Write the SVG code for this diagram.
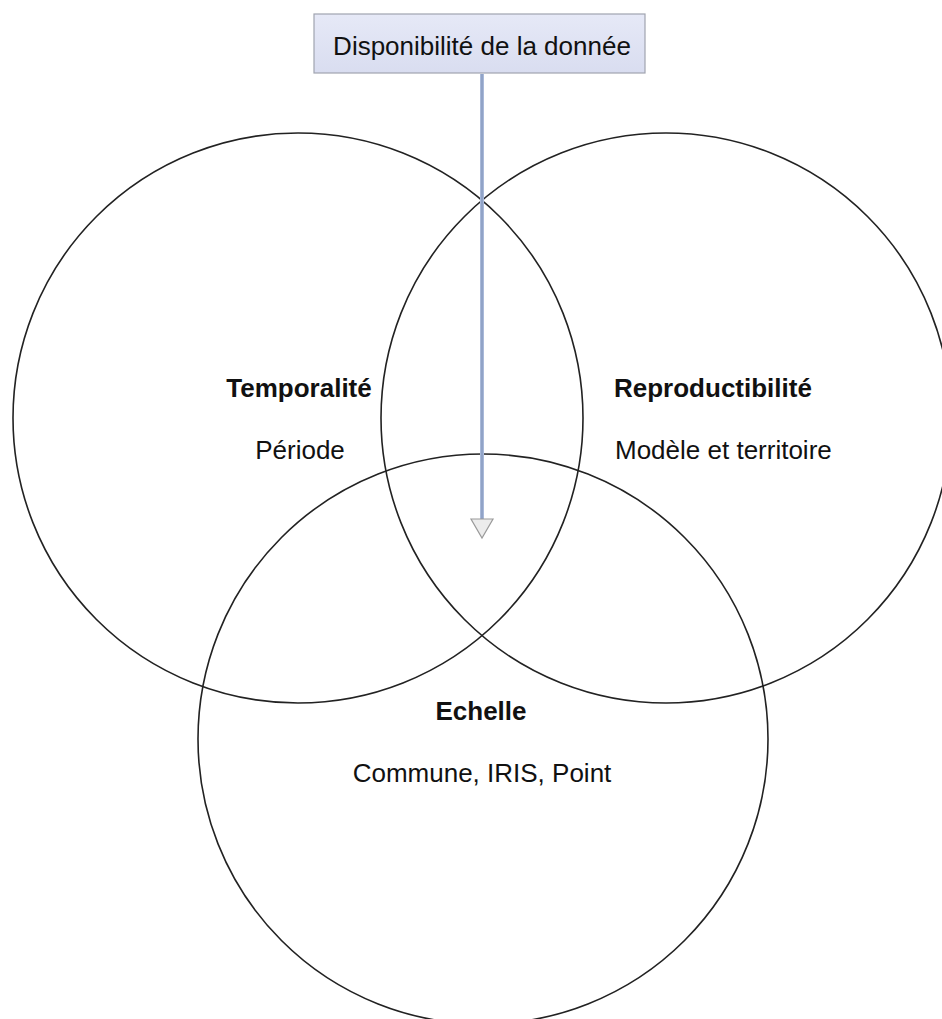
<svg xmlns="http://www.w3.org/2000/svg" width="942" height="1019" viewBox="0 0 942 1019">
  <style>
    .ring { fill: none; stroke: #222; stroke-width: 1.6; }
    .title { font-family: "Liberation Sans", Arial, sans-serif; font-size: 26px; font-weight: bold; fill: #111; }
    .sub { font-family: "Liberation Sans", Arial, sans-serif; font-size: 26px; fill: #111; }
    .mid { text-anchor: middle; }
    .boxlabel { font-family: "Liberation Sans", Arial, sans-serif; font-size: 26px; fill: #111; text-anchor: middle; }
  </style>
  <defs>
    <linearGradient id="boxFill" x1="0" y1="0" x2="0" y2="1">
      <stop offset="0" stop-color="#e6e9f7"/>
      <stop offset="1" stop-color="#d9ddf0"/>
    </linearGradient>
  </defs>
  <rect width="942" height="1019" fill="#ffffff"/>

  <g id="temporalite">
    <circle class="ring" cx="298" cy="418" r="285"/>
    <text class="title mid" x="299" y="397">Temporalité</text>
    <text class="sub mid" x="300" y="459">Période</text>
  </g>

  <g id="reproductibilite">
    <circle class="ring" cx="666" cy="418" r="285"/>
    <text class="title" x="614" y="397">Reproductibilité</text>
    <text class="sub" x="615" y="459">Modèle et territoire</text>
  </g>

  <g id="echelle">
    <circle class="ring" cx="483" cy="739" r="285"/>
    <text class="title mid" x="481" y="720">Echelle</text>
    <text class="sub mid" x="482" y="782">Commune, IRIS, Point</text>
  </g>

  <g id="disponibilite">
    <rect x="314" y="14" width="331" height="59" fill="url(#boxFill)" stroke="#a0a4b0" stroke-width="1.2"/>
    <text class="boxlabel" x="482" y="55">Disponibilité de la donnée</text>
  </g>

  <g id="connectors">
    <line x1="482" y1="74" x2="482" y2="520" stroke="#a9b9d9" stroke-width="4"/>
    <line x1="482" y1="74" x2="482" y2="520" stroke="#8194bb" stroke-width="1.2"/>
    <path d="M471 519 L493 519 L482 538 Z" fill="#ececec" stroke="#9a9a9a" stroke-width="1.2"/>
  </g>
</svg>
